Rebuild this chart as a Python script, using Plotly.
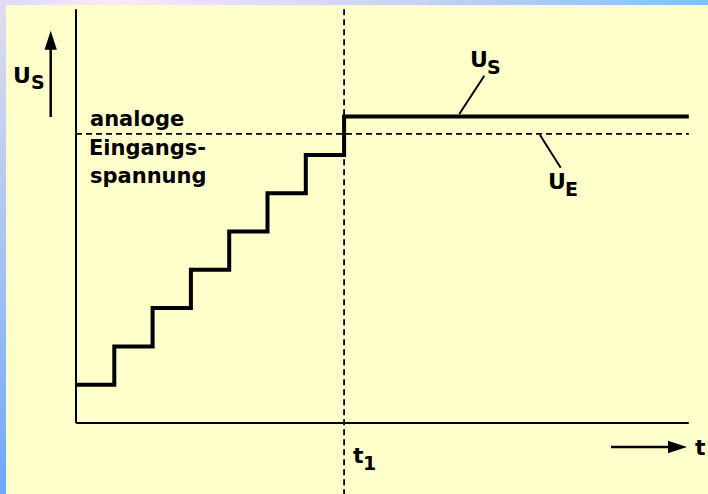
import plotly.graph_objects as go

# ---------------- data (in chart units: one step = 1) ----------------
step_times = [0, 1, 2, 3, 4, 5, 6, 7, 16]      # t positions of the staircase corners
step_levels = [1, 2, 3, 4, 5, 6, 7, 8, 8]      # U_S levels
ue_level = 7.55                                 # analog input voltage U_E
t1 = 7                                          # time t1
t_end = 16                                      # end of t axis
u_top = 10.8                                    # top of U axis

# ---------------- geometry helpers (pixel -> chart units) ----------------
W, H = 708, 494
U = 38.3          # pixels per unit
X0, Y0 = 76, 423  # pixel position of the origin


def dx(px):
    return (px - X0) / U


def dy(py):
    return (Y0 - py) / U


fig = go.Figure()

BLACK = "#000000"

# axes
fig.add_trace(go.Scatter(x=[0, 0], y=[0, u_top], mode="lines",
                         line=dict(color=BLACK, width=2), hoverinfo="skip"))
fig.add_trace(go.Scatter(x=[0, t_end], y=[0, 0], mode="lines",
                         line=dict(color=BLACK, width=2), hoverinfo="skip"))

# U_E dashed
fig.add_trace(go.Scatter(x=[0, t_end], y=[ue_level, ue_level], mode="lines",
                         line=dict(color=BLACK, width=1.8, dash="6px,4px"), hoverinfo="skip"))
# t1 dashed vertical
fig.add_trace(go.Scatter(x=[t1, t1], y=[u_top, dy(H + 10)], mode="lines",
                         line=dict(color=BLACK, width=1.8, dash="6px,4px"), hoverinfo="skip"))

# staircase U_S
fig.add_trace(go.Scatter(x=step_times, y=step_levels, mode="lines", line_shape="hv",
                         line=dict(color=BLACK, width=4), hoverinfo="skip"))

# leader lines
fig.add_trace(go.Scatter(x=[dx(459.3), dx(484.3)], y=[dy(114), dy(75.7)], mode="lines",
                         line=dict(color=BLACK, width=2), hoverinfo="skip"))
fig.add_trace(go.Scatter(x=[dx(540), dx(560.7)], y=[dy(135), dy(167.7)], mode="lines",
                         line=dict(color=BLACK, width=2), hoverinfo="skip"))

# arrows (shaft + head)
fig.add_trace(go.Scatter(x=[dx(50.7), dx(50.7)], y=[dy(117), dy(45)], mode="lines",
                         line=dict(color=BLACK, width=2.5), hoverinfo="skip"))
fig.add_trace(go.Scatter(x=[dx(611), dx(675)], y=[dy(447), dy(447)], mode="lines",
                         line=dict(color=BLACK, width=2.5), hoverinfo="skip"))
fig.add_trace(go.Scatter(x=[dx(50.7), dx(687)], y=[dy(30.7), dy(447)], mode="markers",
                         marker=dict(symbol="arrow", size=20, color=BLACK, angle=[0, 90]),
                         hoverinfo="skip"))

# ---------------- text ----------------
FONT = "DejaVu Sans"


def label(text, px, py, size, xanchor="center"):
    fig.add_annotation(x=dx(px), y=dy(py), xref="x", yref="y", text="<b>%s</b>" % text,
                       showarrow=False, xanchor=xanchor, yanchor="middle",
                       borderpad=0, borderwidth=0,
                       font=dict(family=FONT, size=size, color=BLACK))


label("U", 21.7, 75.7, 22)
label("S", 37.5, 82.4, 19)
label("U", 479, 59.7, 22)
label("S", 494, 66.7, 19)
label("U", 556.7, 181.4, 22)
label("E", 571, 189.4, 19)
label("t", 358, 455.4, 22)
label("1", 369, 463.4, 19)
label("t", 700, 447.4, 22)
label("analoge", 89.5, 118.7, 21, "left")
label("Eingangs-", 89, 148.4, 21, "left")
label("spannung", 89.5, 176, 21, "left")

# ---------------- blue gradient frame (top & left strips) ----------------
def lerp_stops(stops, p):
    for (p0, c0), (p1, c1) in zip(stops[:-1], stops[1:]):
        if p0 <= p <= p1:
            f = (p - p0) / (p1 - p0) if p1 > p0 else 0
            return tuple(int(round(a + (b - a) * f)) for a, b in zip(c0, c1))
    return stops[-1][1]


top_stops = [(0, (220, 220, 240)), (113, (252, 232, 248)), (406, (200, 212, 236)), (708, (128, 192, 255))]
left_stops = [(0, (224, 220, 240)), (250, (168, 196, 240)), (494, (108, 168, 255))]

shapes = []
N = 48
for i in range(N):
    a, b = W * i / N, W * (i + 1) / N
    c = lerp_stops(top_stops, (a + b) / 2)
    shapes.append(dict(type="rect", xref="paper", yref="paper", x0=a / W, x1=b / W + 0.001,
                       y0=1 - 5 / H, y1=1, fillcolor="rgb(%d,%d,%d)" % c, line=dict(width=0),
                       layer="below"))
for i in range(N):
    a, b = H * i / N, H * (i + 1) / N
    c = lerp_stops(left_stops, (a + b) / 2)
    y_hi = 1 - a / H
    y_lo = 1 - b / H - 0.001
    if i == 0:
        y_hi = 1 - 5 / H
    shapes.append(dict(type="rect", xref="paper", yref="paper", x0=0, x1=6 / W,
                       y0=max(y_lo, 0), y1=y_hi, fillcolor="rgb(%d,%d,%d)" % c, line=dict(width=0),
                       layer="below"))

fig.update_layout(
    width=W, height=H, margin=dict(l=0, r=0, t=0, b=0),
    paper_bgcolor="#FFFFCC", plot_bgcolor="rgba(0,0,0,0)",
    showlegend=False, shapes=shapes,
    xaxis=dict(range=[dx(0), dx(W)], visible=False, fixedrange=True),
    yaxis=dict(range=[dy(H), dy(0)], visible=False, fixedrange=True),
)

fig.write_html("out.html", config={"displayModeBar": False, "staticPlot": True},
               post_script="document.body.style.margin='0px';")
